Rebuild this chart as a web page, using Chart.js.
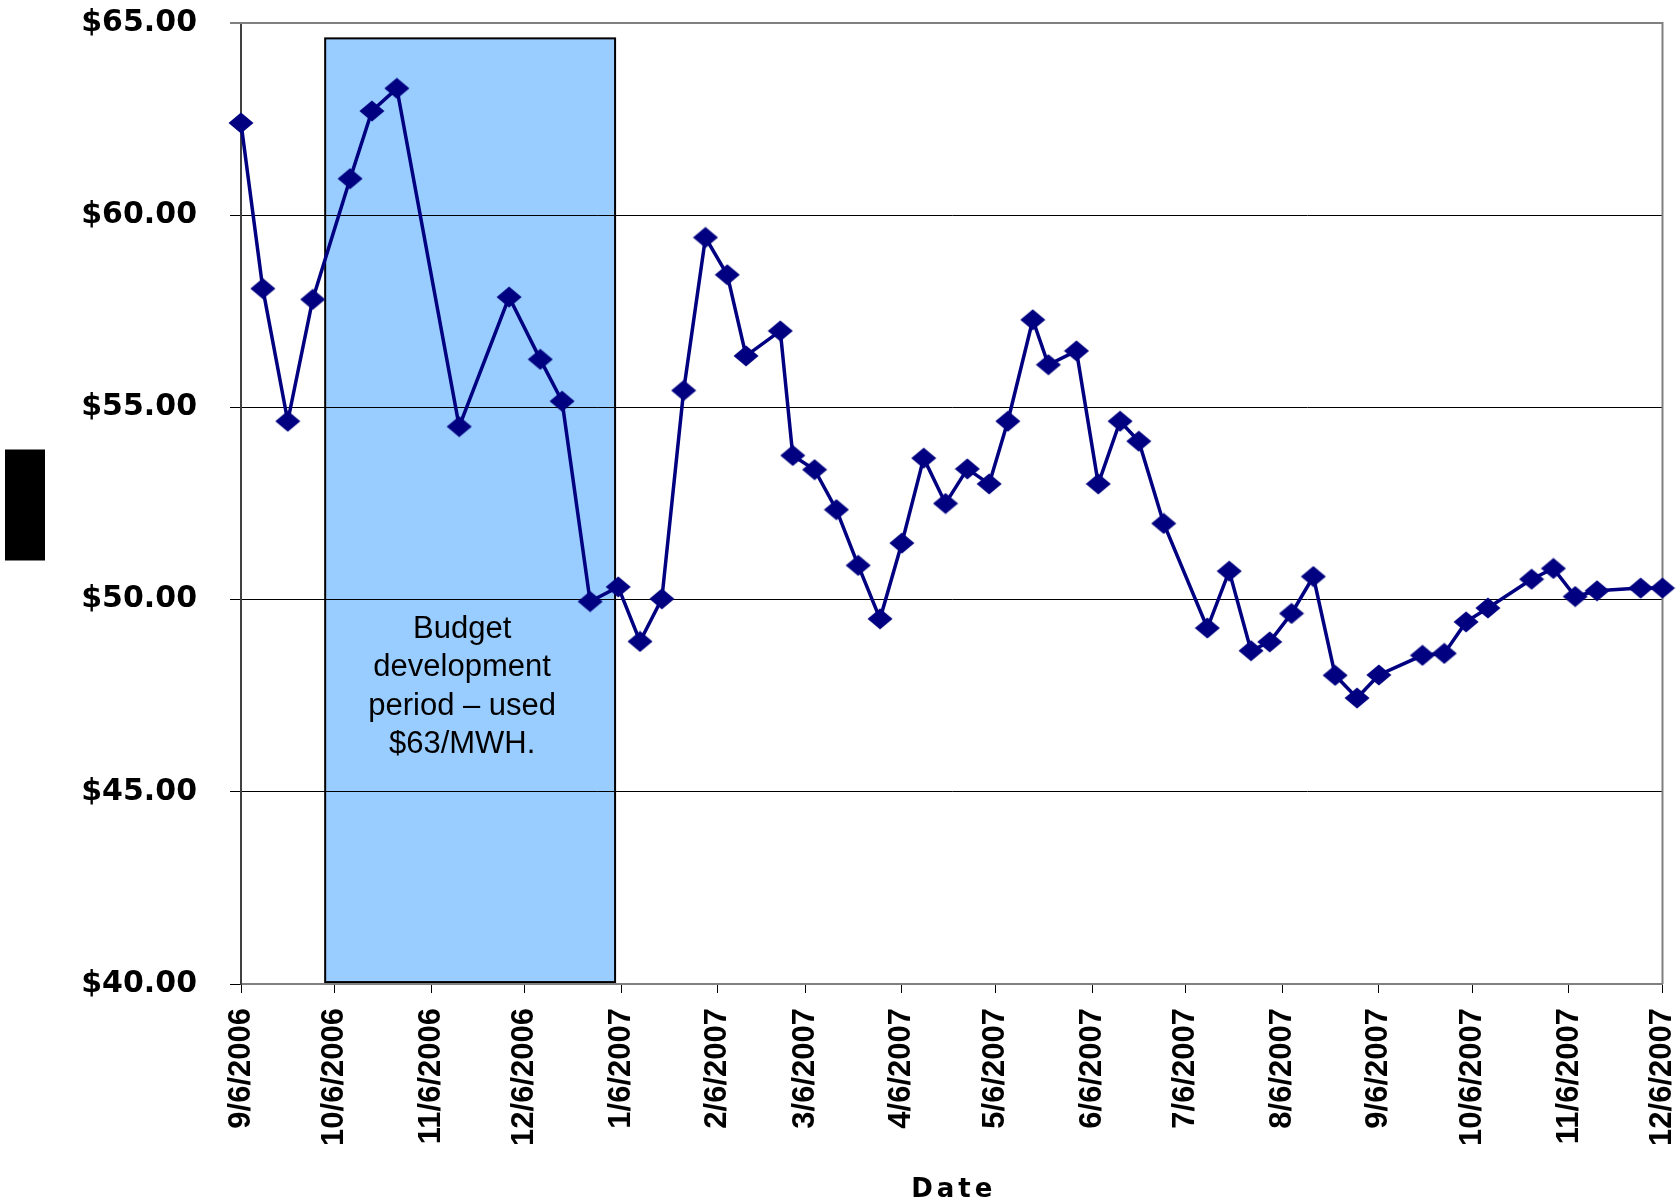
<!DOCTYPE html>
<html lang="en">
<head>
<meta charset="UTF-8">
<title>Weekly Price, Sep 2006 - Dec 2007</title>
<script src="https://cdn.jsdelivr.net/npm/chart.js"></script>
<style>
    html, body { margin: 0; padding: 0; background: #fff; }
    canvas { display: block; }
</style>
</head>
<body>
<canvas id="chart" width="1678" height="1204"></canvas>
<script>
// price observations, $/MWh
const dates = [
    '9/6/2006', '9/13/2006', '9/21/2006', '9/29/2006', '10/11/2006', '10/18/2006', '10/26/2006',
    '11/15/2006', '12/1/2006', '12/11/2006', '12/18/2006', '12/27/2006',
    '1/5/2007', '1/12/2007', '1/19/2007', '1/26/2007', '2/2/2007', '2/9/2007', '2/15/2007', '2/26/2007',
    '3/2/2007', '3/9/2007', '3/16/2007', '3/23/2007', '3/30/2007',
    '4/6/2007', '4/13/2007', '4/20/2007', '4/27/2007', '5/4/2007', '5/10/2007', '5/18/2007', '5/23/2007',
    '6/1/2007', '6/8/2007', '6/15/2007', '6/21/2007', '6/29/2007',
    '7/13/2007', '7/20/2007', '7/27/2007', '8/2/2007', '8/9/2007', '8/16/2007', '8/23/2007', '8/30/2007',
    '9/6/2007', '9/20/2007', '9/27/2007', '10/4/2007', '10/11/2007', '10/25/2007',
    '11/1/2007', '11/8/2007', '11/15/2007', '11/29/2007', '12/6/2007'
];
const prices = [
    62.40, 58.09, 54.64, 57.81, 60.95, 62.71, 63.30,
    54.50, 57.87, 56.25, 55.16, 49.95,
    50.33, 48.91, 50.02, 55.44, 59.42, 58.45, 56.34, 56.99,
    53.75, 53.38, 52.34, 50.89, 49.50,
    51.47, 53.68, 52.50, 53.40, 53.01, 54.64, 57.28, 56.11,
    56.47, 53.01, 54.64, 54.12, 51.98,
    49.26, 50.74, 48.67, 48.90, 49.64, 50.60, 48.03, 47.44,
    48.04, 48.55, 48.60, 49.42, 49.78, 50.53,
    50.81, 50.08, 50.23, 50.30, 50.30
];

// month ticks on the date axis
const tickLabels = [
    '9/6/2006', '10/6/2006', '11/6/2006', '12/6/2006', '1/6/2007', '2/6/2007', '3/6/2007', '4/6/2007',
    '5/6/2007', '6/6/2007', '7/6/2007', '8/6/2007', '9/6/2007', '10/6/2007', '11/6/2007', '12/6/2007'
];
const xTitleText = 'Date';

// shaded budget window
const budgetPeriod = ['10/3/2006', '1/4/2007'];
const budgetNote = ['Budget', 'development', 'period \u2013 used', '$63/MWH.'];

function toDay(s) {
    const [m, d, y] = s.split('/').map(Number);
    return Date.UTC(y, m - 1, d) / 86400000;
}
const day0 = toDay(tickLabels[0]);
const dayOf = s => toDay(s) - day0;

// diamond marker
const diamond = document.createElement('canvas');
diamond.width = 26;
diamond.height = 22;
(function () {
    const c = diamond.getContext('2d');
    c.fillStyle = '#000080';
    c.beginPath();
    c.moveTo(0.5, 11);
    c.lineTo(13, 0.5);
    c.lineTo(25.5, 11);
    c.lineTo(13, 21.5);
    c.closePath();
    c.fill();
})();

const budgetBox = {
    id: 'budgetBox',
    beforeDraw(chart) {
        const { ctx, scales: { x, y } } = chart;
        const left = x.getPixelForValue(dayOf(budgetPeriod[0]));
        const right = x.getPixelForValue(dayOf(budgetPeriod[1]));
        const top = y.getPixelForValue(64.6);
        const bottom = y.getPixelForValue(40.05);
        ctx.save();
        ctx.fillStyle = '#99ccff';
        ctx.fillRect(left, top, right - left, bottom - top);
        ctx.lineWidth = 2;
        ctx.strokeStyle = '#000';
        ctx.strokeRect(left, top, right - left, bottom - top);
        ctx.fillStyle = '#000';
        ctx.font = '31px "Liberation Sans", Arial, sans-serif';
        ctx.textAlign = 'center';
        ctx.textBaseline = 'alphabetic';
        const cx = (left + right) / 2 - 8;
        const by = y.getPixelForValue(49);
        budgetNote.forEach((line, i) => ctx.fillText(line, cx, by + i * 38.3));
        ctx.restore();
    }
};

// grey frame on top and right of the plot
const plotFrame = {
    id: 'plotFrame',
    beforeDatasetsDraw(chart) {
        const { ctx, chartArea: a } = chart;
        ctx.save();
        ctx.strokeStyle = '#808080';
        ctx.lineWidth = 2;
        ctx.beginPath();
        ctx.moveTo(a.left - 11, a.top);
        ctx.lineTo(a.right, a.top);
        ctx.lineTo(a.right, a.bottom);
        ctx.stroke();
        ctx.restore();
    }
};

// spaced-out axis caption under the date labels
const xTitle = {
    id: 'xTitle',
    afterDraw(chart) {
        const { ctx, scales: { x } } = chart;
        ctx.save();
        ctx.font = 'bold 26px "DejaVu Sans", sans-serif';
        ctx.letterSpacing = '4px';
        ctx.fillStyle = '#000';
        ctx.textAlign = 'center';
        ctx.textBaseline = 'alphabetic';
        ctx.fillText(xTitleText, (x.left + x.right) / 2 + 2, x.bottom - 7);
        ctx.restore();
    }
};

// blacked-out y axis title
const yTitleBlock = {
    id: 'yTitleBlock',
    afterDraw(chart) {
        const { ctx, chartArea: a } = chart;
        const mid = (a.top + a.bottom) / 2;
        ctx.save();
        ctx.fillStyle = '#000';
        ctx.fillRect(5, mid - 54, 40, 111);
        ctx.restore();
    }
};

new Chart(document.getElementById('chart'), {
    type: 'line',
    data: {
        datasets: [{
            data: dates.map((d, i) => ({ x: dayOf(d), y: prices[i] })),
            borderColor: '#000080',
            backgroundColor: '#000080',
            borderWidth: 3.5,
            pointStyle: diamond,
            pointRadius: 12,
            pointHoverRadius: 12,
            tension: 0,
            clip: false
        }]
    },
    options: {
        responsive: false,
        animation: false,
        events: [],
        layout: { padding: { top: 23, right: 15, bottom: 0, left: 0 } },
        plugins: {
            legend: { display: false },
            tooltip: { enabled: false }
        },
        scales: {
            x: {
                type: 'linear',
                min: 0,
                max: dayOf(tickLabels[tickLabels.length - 1]),
                afterBuildTicks: s => { s.ticks = tickLabels.map(t => ({ value: dayOf(t) })); },
                afterFit: s => { s.height = 220; s.paddingLeft = 0; s.paddingRight = 0; },
                ticks: {
                    autoSkip: false,
                    maxRotation: 90,
                    minRotation: 90,
                    padding: 15,
                    color: '#000',
                    font: { family: '"Liberation Sans", Arial, sans-serif', size: 31, weight: 'bold' },
                    callback: (v, i) => tickLabels[i]
                },
                grid: { drawOnChartArea: false, color: '#000', lineWidth: 1, tickLength: 9 },
                border: { color: '#808080', width: 2 }
            },
            y: {
                min: 40,
                max: 65,
                afterFit: s => { s.width = 241; s.paddingTop = 0; s.paddingBottom = 0; },
                ticks: {
                    stepSize: 5,
                    padding: 33,
                    color: '#000',
                    font: { family: '"DejaVu Sans", sans-serif', size: 30, weight: 'bold' },
                    callback: v => '$' + v.toFixed(2)
                },
                grid: { color: '#000', lineWidth: 1, tickLength: 11 },
                border: { color: '#404040', width: 2 }
            }
        }
    },
    plugins: [budgetBox, plotFrame, xTitle, yTitleBlock]
});
</script>
</body>
</html>
